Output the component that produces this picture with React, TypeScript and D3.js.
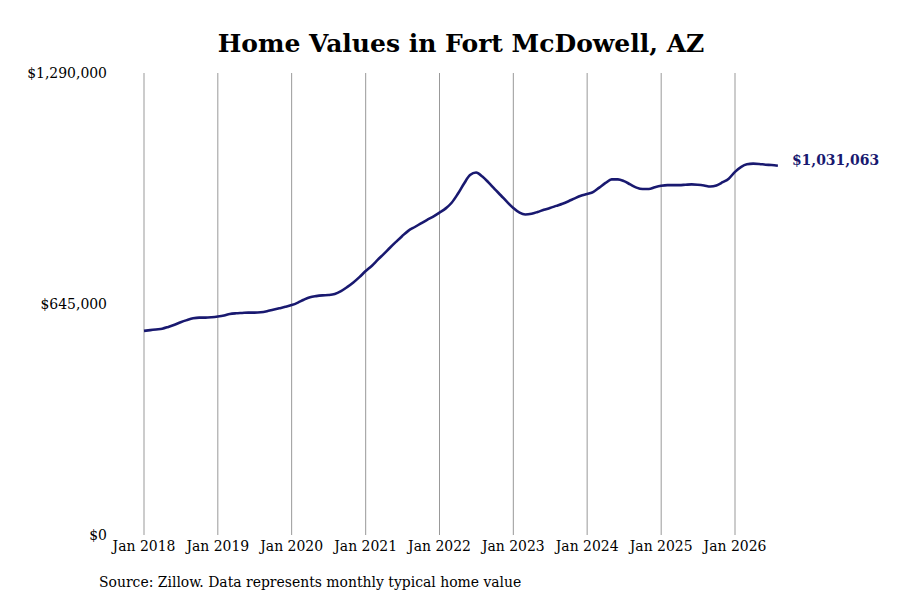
import { useEffect, useRef } from "react";
import * as d3 from "d3";

const WIDTH = 900;
const HEIGHT = 600;
const MARGIN = { top: 73, right: 165, bottom: 65, left: 144 };

const TITLE = "Home Values in Fort McDowell, AZ";
const SOURCE = "Source: Zillow. Data represents monthly typical home value";

// monthly typical home value, Jan 2018 .. Aug 2026 (thousands of $)
const START = new Date(2018, 0, 1);
const VALUES_2018 = [570, 572, 574, 576, 581, 587, 594, 600, 605, 607, 607, 608];
const VALUES_2019 = [610, 613, 617, 619, 620, 621, 621, 622, 625, 629, 633, 637];
const VALUES_2020 = [642, 649, 657, 664, 667, 669, 670, 673, 681, 692, 705, 720];
const VALUES_2021 = [737, 752, 768, 785, 802, 819, 835, 850, 860, 870, 880, 889];
const VALUES_2022 = [900, 912, 927, 952, 980, 1005, 1012, 1001, 984, 966, 948, 930];
const VALUES_2023 = [913, 900, 895, 897, 902, 908, 913, 919, 925, 932, 940, 947];
const VALUES_2024 = [952, 958, 970, 983, 993, 993, 988, 979, 970, 966, 966, 971];
const VALUES_2025 = [975, 977, 977, 977, 978, 979, 978, 976, 973, 976, 985, 995];
const VALUES_2026 = [1014, 1028, 1035, 1037, 1036, 1034, 1033, 1031.063];

const Y_TICKS = [0, 645000, 1290000];
const X_TICK_YEARS = [2018, 2019, 2020, 2021, 2022, 2023, 2024, 2025, 2026];

const LINE_COLOR = "#191970";
const FONT = "'DejaVu Serif Condensed', 'DejaVu Serif', serif";

type Point = { date: Date; value: number };

export default function App() {
  const svgRef = useRef<SVGSVGElement | null>(null);

  useEffect(() => {
    const svgEl = svgRef.current;
    if (!svgEl) return;
    const svg = d3.select(svgEl);
    svg.selectAll("*").remove();

    const all = [
      ...VALUES_2018,
      ...VALUES_2019,
      ...VALUES_2020,
      ...VALUES_2021,
      ...VALUES_2022,
      ...VALUES_2023,
      ...VALUES_2024,
      ...VALUES_2025,
      ...VALUES_2026,
    ];
    const data: Point[] = all.map((v, i) => ({
      date: d3.timeMonth.offset(START, i),
      value: v * 1000,
    }));

    const x = d3
      .scaleTime()
      .domain([new Date(2018, 0, 1), new Date(2026, 0, 1)])
      .range([MARGIN.left, 735]);

    const y = d3
      .scaleLinear()
      .domain([0, 1290000])
      .range([HEIGHT - MARGIN.bottom, MARGIN.top]);

    svg
      .append("rect")
      .attr("width", WIDTH)
      .attr("height", HEIGHT)
      .attr("fill", "#ffffff");

    // Title
    svg
      .append("text")
      .attr("x", 461)
      .attr("y", 52)
      .attr("text-anchor", "middle")
      .attr("font-family", "'DejaVu Serif', serif")
      .attr("font-weight", "bold")
      .attr("font-size", 25)
      .attr("fill", "#000")
      .text(TITLE);

    // vertical gridlines + x labels
    const grid = svg.append("g");
    X_TICK_YEARS.forEach((yr) => {
      const xx = x(new Date(yr, 0, 1));
      grid
        .append("line")
        .attr("x1", xx)
        .attr("x2", xx)
        .attr("y1", y(1290000))
        .attr("y2", y(0))
        .attr("stroke", "#999999")
        .attr("stroke-width", 1);
      grid
        .append("text")
        .attr("x", xx)
        .attr("y", 551)
        .attr("text-anchor", "middle")
        .attr("font-family", FONT)
        .attr("font-stretch", "condensed")
        .attr("font-size", 15.5)
        .attr("fill", "#000")
        .text(`Jan ${yr}`);
    });

    // y tick labels
    Y_TICKS.forEach((t) => {
      svg
        .append("text")
        .attr("x", 107)
        .attr("y", y(t) + 5)
        .attr("text-anchor", "end")
        .attr("font-family", FONT)
        .attr("font-stretch", "condensed")
        .attr("font-size", 15.5)
        .attr("fill", "#000")
        .text(`$${d3.format(",")(t)}`);
    });

    const line = d3
      .line<Point>()
      .x((d) => x(d.date))
      .y((d) => y(d.value))
      .curve(d3.curveMonotoneX);

    svg
      .append("path")
      .datum(data)
      .attr("d", line)
      .attr("fill", "none")
      .attr("stroke", LINE_COLOR)
      .attr("stroke-width", 2.6)
      .attr("stroke-linejoin", "round");

    // end label
    const last = data[data.length - 1];
    svg
      .append("text")
      .attr("x", x(last.date) + 14)
      .attr("y", y(last.value) - 1)
      .attr("font-family", FONT)
      .attr("font-stretch", "condensed")
      .attr("font-weight", "bold")
      .attr("font-size", 15.5)
      .attr("fill", LINE_COLOR)
      .text(`$${d3.format(",")(Math.round(last.value))}`);

    // source
    svg
      .append("text")
      .attr("x", 99)
      .attr("y", 587)
      .attr("font-family", FONT)
      .attr("font-stretch", "condensed")
      .attr("font-size", 15.5)
      .attr("fill", "#000")
      .text(SOURCE);
  }, []);

  return (
    <svg
      ref={svgRef}
      width={WIDTH}
      height={HEIGHT}
      style={{ position: "absolute", left: 0, top: 0 }}
    />
  );
}
